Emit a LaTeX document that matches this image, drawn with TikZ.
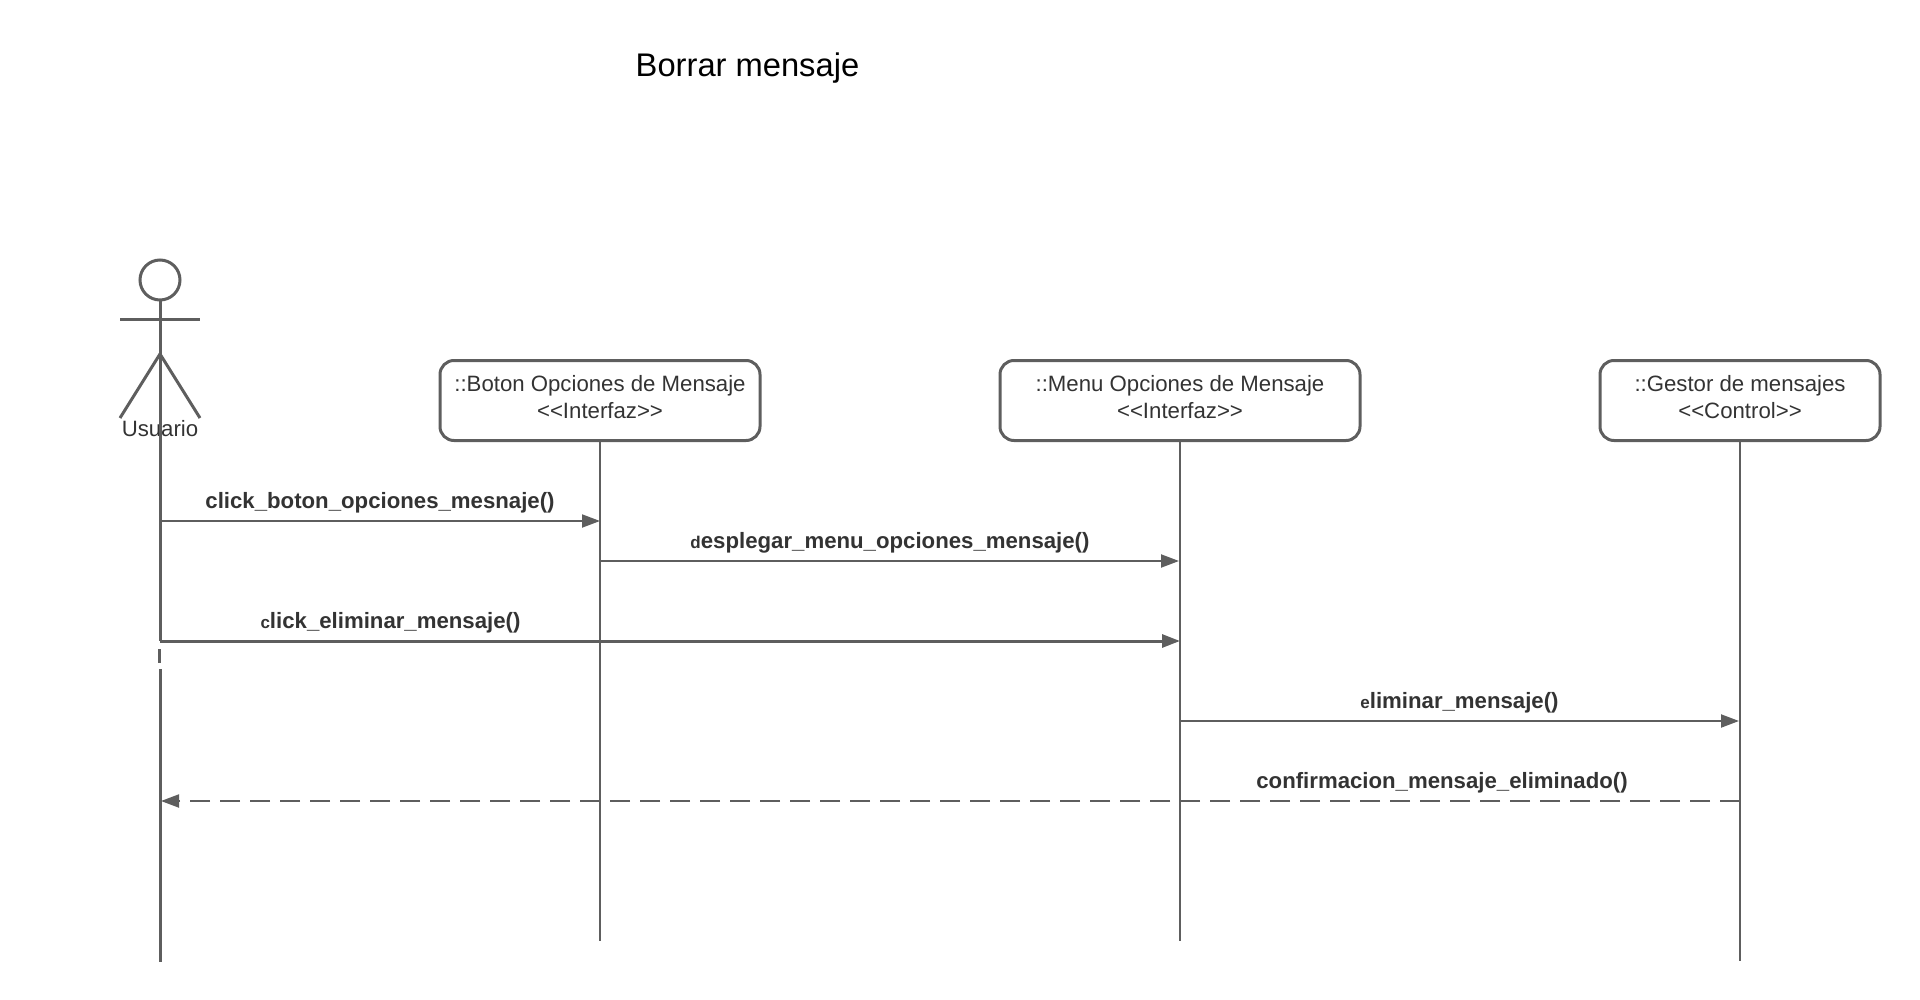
\documentclass[tikz,border=0pt]{standalone}
\usepackage{fontspec}
\setmainfont{Liberation Sans}[Ligatures=NoCommon]
\usetikzlibrary{arrows.meta}
\definecolor{ln}{HTML}{5E5E5E}
\definecolor{tx}{HTML}{333333}
\tikzset{
  x=1pt,y=-1pt,
  lifebox/.style={draw=ln,line width=3pt,rounded corners=14pt,minimum height=80pt,inner sep=0pt,outer sep=0pt,align=center,text=tx,font=\fontsize{22.2}{27}\selectfont},
  lifeline/.style={draw=ln,line width=2pt},
  actorline/.style={draw=ln,line width=3pt},
  message/.style={draw=ln,line width=2pt,-{Triangle[length=18pt,width=13pt,fill=ln]}},
  heavymsg/.style={message,line width=3pt},
  reply/.style={message,dash pattern=on 20pt off 10pt},
  msglabel/.style={text=tx,inner sep=0pt,font=\fontsize{22.2}{27}\selectfont\bfseries},
}
\newcommand{\sm}[1]{{\fontsize{17}{20}\selectfont #1}}
\newcommand{\stereo}[1]{{<}{<}#1{>}{>}\rule[-8pt]{0pt}{8pt}}
\begin{document}
\begin{tikzpicture}
\useasboundingbox (0,0) rectangle (1920,1000);
\node[font=\fontsize{32.7}{38}\selectfont,text=black,inner sep=0pt] (title) at (747.5,68) {Borrar mensaje};

% actor
\node[circle,draw=ln,line width=3pt,minimum size=40pt,inner sep=0pt,outer sep=0pt] (head) at (160,280) {};
\coordinate (armL) at (120,320);
\coordinate (armR) at (200,320);
\coordinate (hip) at (160,354);
\coordinate (legL) at (120,418);
\coordinate (legR) at (200,418);
\node[text=tx,font=\fontsize{22.2}{27}\selectfont,inner sep=0pt] (usuario) at (160,429) {Usuario};
\draw[actorline] (armL) -- (armR);
\draw[actorline] (head.south) -- (hip);
\draw[actorline] (legL) -- (hip) -- (legR);

% boxes
\node[lifebox,minimum width=320pt] (boton) at (600,400.5) {::Boton Opciones de Mensaje\\\stereo{Interfaz}};
\node[lifebox,minimum width=360pt] (menu) at (1180,400.5) {::Menu Opciones de Mensaje\\\stereo{Interfaz}};
\node[lifebox,minimum width=280pt] (gestor) at (1740,400.5) {::Gestor de mensajes\\\stereo{Control}};

% lifelines
\coordinate (endU) at (160,962);
\coordinate (breakA) at (160,641);
\coordinate (dashA) at (159.5,649);
\coordinate (dashB) at (159.5,663);
\coordinate (breakB) at (160,669);
\coordinate (endB) at (600,941);
\coordinate (endM) at (1180,941);
\coordinate (endG) at (1740,961);
\draw[actorline] (hip) -- (breakA);
\draw[draw=ln,line width=2.2pt] (dashA) -- (dashB);
\draw[actorline] (breakB) -- (endU);
\draw[lifeline] (boton.south) -- (endB);
\draw[lifeline] (menu.south) -- (endM);
\draw[lifeline] (gestor.south) -- (endG);

% messages
\coordinate (m1a) at (160,521); \coordinate (m1b) at (600,521);
\coordinate (m2a) at (600,561); \coordinate (m2b) at (1179,561);
\coordinate (m3a) at (160,641); \coordinate (m3b) at (1180,641);
\coordinate (m4a) at (1180,721); \coordinate (m4b) at (1739,721);
\coordinate (m5a) at (1740,801); \coordinate (m5b) at (161,801);
\draw[message] (m1a) -- (m1b);
\draw[message] (m2a) -- (m2b);
\draw[heavymsg] (m3a) -- (m3b);
\draw[message] (m4a) -- (m4b);
\draw[reply] (m5a) -- (m5b);

\node[msglabel] (l1) at (380,502.5) {click\_boton\_opciones\_mesnaje()};
\node[msglabel] (l2) at (890,542.5) {\sm{d}esplegar\_menu\_opciones\_mensaje()};
\node[msglabel] (l3) at (390.5,622.5) {\sm{c}lick\_eliminar\_mensaje()};
\node[msglabel] (l4) at (1459.5,702.5) {\sm{e}liminar\_mensaje()};
\node[msglabel] (l5) at (1442,782.5) {confirmacion\_mensaje\_eliminado()};
\end{tikzpicture}
\end{document}
